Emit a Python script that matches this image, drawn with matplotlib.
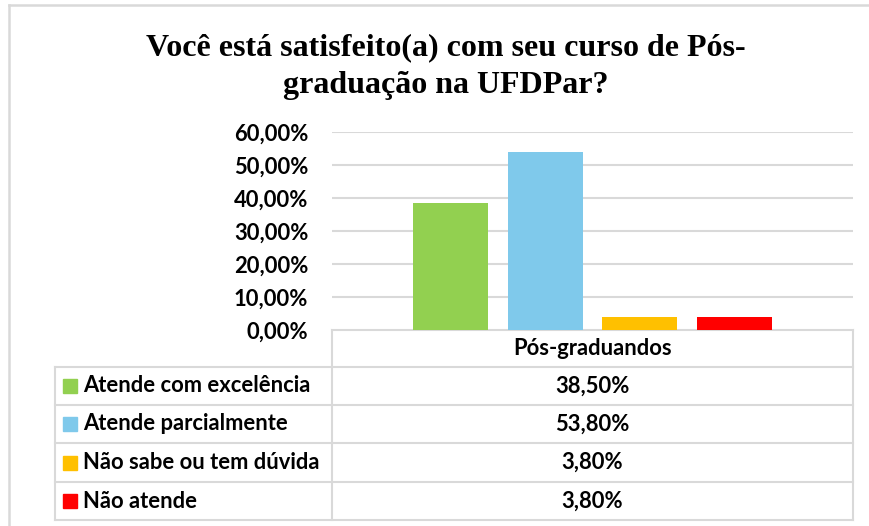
import numpy as np
import matplotlib
matplotlib.use('Agg')
import matplotlib.pyplot as plt
from matplotlib.lines import Line2D
from matplotlib.patches import Rectangle

title = 'Você está satisfeito(a) com seu curso de Pós-\ngraduação na UFDPar?'
group = 'Pós-graduandos'
labels = ['Atende com excelência', 'Atende parcialmente',
          'Não sabe ou tem dúvida', 'Não atende']
values = [38.5, 53.8, 3.8, 3.8]
value_text = ['38,50%', '53,80%', '3,80%', '3,80%']
colors = ['#92D050', '#7FC9EB', '#FFC000', '#FF0000']
yticks = [0, 10, 20, 30, 40, 50, 60]

W, H = 870, 526
fig = plt.figure(figsize=(W / 100, H / 100), dpi=100)
font = 'Lato'
fs = 15.8
grid_c = '#d9d9d9'

# plot area (pixel box 332..853, 132..330)
x0, x1, ytop, ybot = 332, 853, 132, 330
ax = fig.add_axes([x0 / W, 1 - ybot / H, (x1 - x0) / W, (ybot - ytop) / H])
offsets = (np.arange(len(values)) - 1.5) * 0.182
ax.bar(offsets, values, width=0.144, color=colors, zorder=3)
ax.set_xlim(-0.5, 0.5)
ax.set_ylim(0, 60)
ax.set_yticks(yticks)
ax.set_yticklabels(['%d,00%%' % t for t in yticks], fontfamily=font,
                   fontweight='bold', fontsize=fs)
ax.tick_params(axis='y', length=0, pad=17)
ax.set_xticks([])
ax.grid(axis='y', color=grid_c, lw=1.5, zorder=0)
for s in ax.spines.values():
    s.set_visible(False)

# overlay in pixel coordinates for frame, title and data table
ov = fig.add_axes([0, 0, 1, 1], zorder=-1)
ov.set_xlim(0, W)
ov.set_ylim(H, 0)
ov.axis('off')
ov.add_line(Line2D([9, W], [5, 5], color=grid_c, lw=1.8))
ov.add_line(Line2D([9, 9], [5, H], color=grid_c, lw=1.8))

ov.text(446, 67, title, ha='center', va='center', fontfamily='Liberation Serif',
        fontweight='bold', fontsize=23, linespacing=1.4)

rows = [330, 367, 405, 443, 482, 520]
tl, cx0, cx1 = 55, 332, 853
ov.add_line(Line2D([cx0, cx1], [rows[0]] * 2, color=grid_c, lw=1.5))
for r in rows[1:]:
    ov.add_line(Line2D([tl, cx1], [r, r], color=grid_c, lw=1.5))
ov.add_line(Line2D([tl, tl], [rows[1], rows[-1]], color=grid_c, lw=1.5))
ov.add_line(Line2D([cx0, cx0], [rows[0], rows[-1]], color=grid_c, lw=1.5))
ov.add_line(Line2D([cx1, cx1], [rows[0], rows[-1]], color=grid_c, lw=1.5))

cx = (cx0 + cx1) / 2
tkw = dict(fontfamily=font, fontweight='bold', fontsize=fs, va='center')
ov.text(cx, (rows[0] + rows[1]) / 2, group, ha='center', **tkw)
for i, (lab, vt, c) in enumerate(zip(labels, value_text, colors)):
    yc = (rows[i + 1] + rows[i + 2]) / 2
    ov.add_patch(Rectangle((63, yc - 7), 14, 14, color=c))
    ov.text(83, yc, lab, ha='left', **tkw)
    ov.text(cx, yc, vt, ha='center', **tkw)

fig.savefig('out.png', dpi=100)
